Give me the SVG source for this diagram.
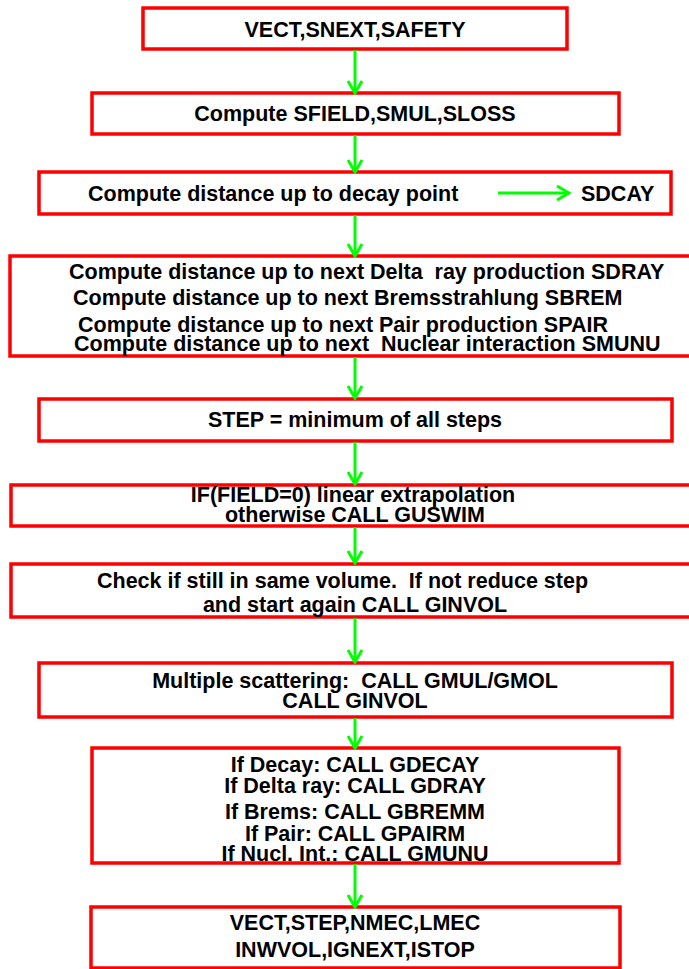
<svg xmlns="http://www.w3.org/2000/svg" width="689" height="969" viewBox="0 0 689 969">
<style>
.box{fill:#fff;stroke:#ff0000;stroke-width:3.5}
.t{font-family:"Liberation Sans",Arial,sans-serif;font-weight:bold;font-size:21.5px;fill:#000;white-space:pre}
.c{text-anchor:middle}
.ar{stroke:#00ff00;stroke-width:3;fill:none}
</style>
<defs>
<marker id="ah" viewBox="-14 -10 16 20" refX="0" refY="0" markerWidth="16" markerHeight="20" markerUnits="userSpaceOnUse" orient="auto">
<path d="M-12,-7 L0,0 L-12,7" fill="none" stroke="#00ff00" stroke-width="3"/>
</marker>
</defs>
<rect width="689" height="969" fill="#fff"/>
<g id="n1"><rect class="box" x="143" y="8" width="424" height="41"/><text class="t c" x="355" y="37">VECT,SNEXT,SAFETY</text></g>
<g id="n2"><rect class="box" x="92" y="93" width="527" height="41"/><text class="t c" x="355" y="121">Compute SFIELD,SMUL,SLOSS</text></g>
<g id="n3"><rect class="box" x="39" y="172" width="632" height="42"/><text class="t" x="88" y="201">Compute distance up to decay point</text><text class="t" x="581" y="201">SDCAY</text></g>
<g id="n4"><rect class="box" x="10" y="256" width="700" height="100"/>
<text class="t" x="69" y="279" xml:space="preserve">Compute distance up to next Delta  ray production SDRAY</text>
<text class="t" x="73" y="305">Compute distance up to next Bremsstrahlung SBREM</text>
<text class="t" x="78" y="332">Compute distance up to next Pair production SPAIR</text>
<text class="t" x="74" y="351" xml:space="preserve">Compute distance up to next  Nuclear interaction SMUNU</text></g>
<g id="n5"><rect class="box" x="39" y="399" width="633" height="42"/><text class="t c" x="355" y="427">STEP = minimum of all steps</text></g>
<g id="n6"><rect class="box" x="11" y="485" width="700" height="41"/><text class="t c" x="353" y="502">IF(FIELD=0) linear extrapolation</text><text class="t c" x="355" y="522">otherwise CALL GUSWIM</text></g>
<g id="n7"><rect class="box" x="11" y="564" width="700" height="53"/><text class="t" x="97" y="588" xml:space="preserve">Check if still in same volume.  If not reduce step</text><text class="t c" x="355" y="612">and start again CALL GINVOL</text></g>
<g id="n8"><rect class="box" x="39" y="663" width="633" height="54"/><text class="t c" x="355" y="688" xml:space="preserve">Multiple scattering:  CALL GMUL/GMOL</text><text class="t c" x="355" y="708">CALL GINVOL</text></g>
<g id="n9"><rect class="box" x="92" y="748" width="527" height="115"/>
<text class="t c" x="355" y="772">If Decay: CALL GDECAY</text>
<text class="t c" x="355" y="793">If Delta ray: CALL GDRAY</text>
<text class="t c" x="355" y="819">If Brems: CALL GBREMM</text>
<text class="t c" x="355" y="841">If Pair: CALL GPAIRM</text>
<text class="t c" x="355" y="861">If Nucl. Int.: CALL GMUNU</text></g>
<g id="n10"><rect class="box" x="91" y="907" width="529" height="61"/><text class="t c" x="355" y="930">VECT,STEP,NMEC,LMEC</text><text class="t c" x="355" y="957">INWVOL,IGNEXT,ISTOP</text></g>
<g id="connectors">
<line class="ar" x1="355" y1="50" x2="355" y2="93" marker-end="url(#ah)"/>
<line class="ar" x1="355" y1="135" x2="355" y2="172" marker-end="url(#ah)"/>
<line class="ar" x1="355" y1="215" x2="355" y2="256" marker-end="url(#ah)"/>
<line class="ar" x1="355" y1="357" x2="355" y2="398" marker-end="url(#ah)"/>
<line class="ar" x1="355" y1="442" x2="355" y2="484" marker-end="url(#ah)"/>
<line class="ar" x1="355" y1="527" x2="355" y2="563" marker-end="url(#ah)"/>
<line class="ar" x1="355" y1="618" x2="355" y2="662" marker-end="url(#ah)"/>
<line class="ar" x1="355" y1="718" x2="355" y2="748" marker-end="url(#ah)"/>
<line class="ar" x1="355" y1="864" x2="355" y2="907" marker-end="url(#ah)"/>
<line class="ar" x1="498" y1="193" x2="569" y2="193" marker-end="url(#ah)"/>
</g>
</svg>
